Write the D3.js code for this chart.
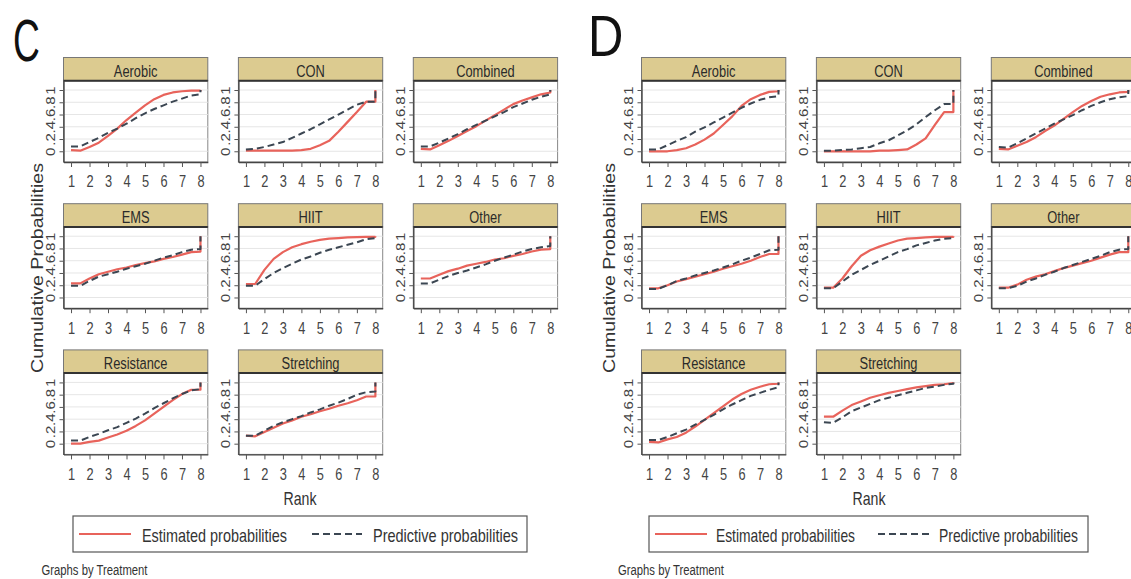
<!DOCTYPE html>
<html><head><meta charset="utf-8">
<script src="https://cdn.jsdelivr.net/npm/d3@7"></script>
<style>body{margin:0;background:#fff;} svg{display:block;}</style>
</head><body><svg id="chart" width="1131" height="579"></svg>
<script>
const treatments = ["Aerobic","CON","Combined","EMS","HIIT","Other","Resistance","Stretching"];
const rankGrid = [1,1.5,2,2.5,3,3.5,4,4.5,5,5.5,6,6.5,7,7.5,8];
const finalCumulative = 1;
const xTicks = [1,2,3,4,5,6,7,8];
const yTicks = [0,0.2,0.4,0.6,0.8,1];
const yTickLabels = ["0",".2",".4",".6",".8","1"];
const legendLabels = ["Estimated probabilities","Predictive probabilities"];
const xTitle = "Rank";
const yTitle = "Cumulative Probabilities";
const note = "Graphs by Treatment";

const estimatedC = [
  [0.02,0.01,0.07,0.14,0.25,0.37,0.51,0.63,0.75,0.85,0.92,0.96,0.98,0.99,0.99],
  [0.01,0.01,0.01,0.01,0.01,0.01,0.02,0.04,0.10,0.17,0.32,0.48,0.64,0.81,0.81],
  [0.04,0.03,0.10,0.17,0.25,0.33,0.41,0.50,0.59,0.68,0.77,0.83,0.88,0.93,0.96],
  [0.23,0.23,0.31,0.38,0.42,0.46,0.49,0.53,0.56,0.59,0.63,0.66,0.70,0.74,0.75],
  [0.22,0.22,0.45,0.63,0.74,0.82,0.87,0.91,0.94,0.96,0.97,0.98,0.985,0.99,0.99],
  [0.31,0.31,0.37,0.43,0.47,0.52,0.55,0.58,0.62,0.64,0.68,0.71,0.75,0.78,0.79],
  [0.00,0.00,0.03,0.05,0.10,0.15,0.21,0.29,0.38,0.49,0.60,0.71,0.81,0.88,0.88],
  [0.13,0.12,0.19,0.26,0.33,0.38,0.44,0.48,0.53,0.57,0.62,0.66,0.71,0.77,0.77]
];
const predictiveC = [
  [0.08,0.08,0.15,0.22,0.30,0.37,0.45,0.54,0.62,0.69,0.75,0.81,0.86,0.91,0.93],
  [0.03,0.04,0.07,0.11,0.15,0.22,0.29,0.36,0.44,0.52,0.60,0.68,0.76,0.81,0.81],
  [0.08,0.08,0.14,0.21,0.28,0.36,0.43,0.50,0.57,0.64,0.72,0.78,0.84,0.89,0.93],
  [0.19,0.19,0.27,0.34,0.38,0.42,0.47,0.51,0.55,0.60,0.65,0.69,0.74,0.78,0.79],
  [0.19,0.19,0.30,0.40,0.48,0.55,0.62,0.67,0.73,0.78,0.82,0.86,0.90,0.95,0.97],
  [0.23,0.23,0.29,0.35,0.40,0.44,0.49,0.54,0.60,0.65,0.70,0.75,0.79,0.82,0.84],
  [0.05,0.05,0.11,0.16,0.22,0.27,0.34,0.41,0.49,0.58,0.66,0.74,0.81,0.87,0.89],
  [0.13,0.13,0.21,0.29,0.35,0.40,0.45,0.51,0.56,0.62,0.67,0.73,0.80,0.84,0.85]
];
const estimatedD = [
  [0.00,0.00,0.00,0.02,0.05,0.11,0.19,0.29,0.43,0.57,0.74,0.85,0.92,0.97,0.98],
  [0.00,0.00,0.00,0.00,0.00,0.00,0.01,0.01,0.02,0.03,0.11,0.21,0.43,0.64,0.64],
  [0.04,0.03,0.09,0.15,0.23,0.33,0.42,0.53,0.64,0.74,0.82,0.89,0.93,0.96,0.97],
  [0.15,0.15,0.20,0.26,0.30,0.34,0.38,0.42,0.47,0.51,0.55,0.60,0.66,0.71,0.71],
  [0.16,0.16,0.31,0.51,0.68,0.77,0.83,0.88,0.93,0.96,0.97,0.98,0.99,0.99,0.99],
  [0.16,0.16,0.21,0.29,0.34,0.38,0.43,0.48,0.52,0.56,0.60,0.65,0.70,0.74,0.74],
  [0.03,0.02,0.07,0.11,0.18,0.28,0.39,0.50,0.61,0.72,0.81,0.88,0.93,0.97,0.98],
  [0.44,0.44,0.54,0.63,0.69,0.75,0.79,0.83,0.86,0.89,0.92,0.94,0.96,0.97,0.99]
];
const predictiveD = [
  [0.03,0.03,0.10,0.17,0.23,0.32,0.39,0.47,0.55,0.63,0.71,0.78,0.84,0.88,0.90],
  [0.01,0.01,0.02,0.03,0.05,0.07,0.13,0.18,0.26,0.34,0.44,0.56,0.67,0.77,0.77],
  [0.07,0.06,0.13,0.21,0.29,0.37,0.45,0.52,0.59,0.67,0.74,0.80,0.85,0.88,0.90],
  [0.14,0.14,0.20,0.27,0.31,0.36,0.40,0.44,0.49,0.54,0.60,0.65,0.71,0.77,0.78],
  [0.15,0.15,0.26,0.37,0.45,0.53,0.60,0.67,0.74,0.79,0.85,0.89,0.93,0.96,0.97],
  [0.15,0.15,0.19,0.26,0.31,0.37,0.42,0.48,0.53,0.58,0.63,0.68,0.74,0.78,0.79],
  [0.06,0.06,0.11,0.17,0.23,0.31,0.39,0.47,0.56,0.64,0.71,0.78,0.83,0.88,0.92],
  [0.35,0.34,0.43,0.53,0.59,0.65,0.71,0.75,0.79,0.83,0.87,0.91,0.93,0.96,0.98]
];

const FONT = '"Liberation Sans", Arial, sans-serif';
const RED = "#e8635b", DARK = "#3b4652", TAN = "#dccb90";
const COL0 = 63.5, COLSTEP = 174.9, PW = 144.3, ROW0 = 57.5, ROWSTEP = 146.2, HH = 23.2, PH = 81.3;

const figures = [
  {letter:"C", ox:0, est:estimatedC, pred:predictiveC, letterX:13, letterY:60.5, letterSize:60, letterSx:0.62,
   titleX:43, rankX:300, legX:73, legW:454,
   items:[{lx1:79,lx2:131,tx:142,tw:145},{lx1:312,lx2:362,tx:373,tw:145}], noteX:41.5},
  {letter:"D", ox:578, est:estimatedD, pred:predictiveD, letterX:588, letterY:56, letterSize:57, letterSx:0.86,
   titleX:615, rankX:869, legX:649, legW:439,
   items:[{lx1:655,lx2:707,tx:716,tw:139},{lx1:878,lx2:932,tx:939,tw:139}], noteX:618}
];

const svg = d3.select("#chart").attr("font-family", FONT);

figures.forEach(f => {
  const g = svg.append("g");
  // big panel letter
  g.append("text").attr("transform", `translate(${f.letterX},${f.letterY}) scale(${f.letterSx},1)`)
    .attr("font-size", f.letterSize).attr("fill", "#111").text(f.letter);

  treatments.forEach((t, i) => {
    const col = i % 3, row = Math.floor(i / 3);
    const left = f.ox + COL0 + col * COLSTEP, top = ROW0 + row * ROWSTEP;
    const pTop = top + HH, pBot = pTop + PH;
    const x = d3.scaleLinear().domain([0.593, 8.396]).range([left, left + PW]);
    const y = d3.scaleLinear().domain([-0.175, 1.152]).range([pBot, pTop]);

    g.append("rect").attr("x", left).attr("y", pTop).attr("width", PW).attr("height", PH)
      .attr("fill", "#fff").attr("stroke", "#888").attr("stroke-width", 1);
    g.append("g").selectAll("line").data(yTicks).join("line")
      .attr("x1", left).attr("x2", left + PW).attr("y1", d => y(d)).attr("y2", d => y(d))
      .attr("stroke", "#e6e6e6").attr("stroke-width", 1);

    const ya = g.append("g").attr("transform", `translate(${left},0)`)
      .call(d3.axisLeft(y).tickValues(yTicks).tickSize(4).tickSizeOuter(0).tickFormat((d, k) => yTickLabels[k]));
    ya.attr("font-family", FONT).attr("font-size", 15);
    ya.select(".domain").attr("stroke", "#444").attr("stroke-width", 1.4);
    ya.selectAll(".tick line").attr("stroke", "#555");
    ya.selectAll(".tick text").attr("x", null).attr("dy", null).attr("text-anchor", "middle")
      .attr("transform", "translate(-8.5,0) scale(0.8,1) rotate(-90)").attr("fill", "#444");

    const xa = g.append("g").attr("transform", `translate(0,${pBot})`)
      .call(d3.axisBottom(x).tickValues(xTicks).tickSize(5).tickSizeOuter(0));
    xa.attr("font-family", FONT).attr("font-size", 16);
    xa.select(".domain").attr("stroke", "#444").attr("stroke-width", 1.4);
    xa.selectAll(".tick line").attr("stroke", "#555");
    xa.selectAll(".tick text").attr("y", null).attr("dy", null)
      .attr("transform", "translate(0,25.3) scale(0.8,1)").attr("fill", "#444");

    const line = d3.line().x(d => x(d[0])).y(d => y(d[1]));
    const pts = arr => rankGrid.map((r, k) => [r, arr[k]]).concat([[rankGrid[rankGrid.length - 1], finalCumulative]]);
    g.append("path").attr("d", line(pts(f.est[i]))).attr("fill", "none")
      .attr("stroke", RED).attr("stroke-width", 2.2).attr("stroke-linejoin", "round");
    g.append("path").attr("d", line(pts(f.pred[i]))).attr("fill", "none")
      .attr("stroke", DARK).attr("stroke-width", 2).attr("stroke-dasharray", "7,4").attr("stroke-linejoin", "round");

    // header strip
    g.append("rect").attr("x", left).attr("y", top).attr("width", PW).attr("height", HH)
      .attr("fill", TAN).attr("stroke", "#777").attr("stroke-width", 1);
    g.append("line").attr("x1", left).attr("x2", left + PW).attr("y1", pTop).attr("y2", pTop)
      .attr("stroke", "#333").attr("stroke-width", 2);
    g.append("text").attr("transform", `translate(${left + PW / 2},${top + 19.5}) scale(0.78,1)`)
      .attr("text-anchor", "middle").attr("font-size", 16.5).attr("fill", "#2a2a2a").text(t);
  });

  // axis titles
  g.append("text").attr("transform", `translate(${f.titleX},268) scale(0.8,1) rotate(-90)`)
    .attr("text-anchor", "middle").attr("font-size", 20).attr("fill", "#333")
    .attr("textLength", 210).attr("lengthAdjust", "spacingAndGlyphs").text(yTitle);
  g.append("text").attr("x", f.rankX).attr("y", 505).attr("text-anchor", "middle")
    .attr("font-size", 19).attr("fill", "#333").attr("textLength", 33).attr("lengthAdjust", "spacingAndGlyphs").text(xTitle);

  // legend
  g.append("rect").attr("x", f.legX).attr("y", 516).attr("width", f.legW).attr("height", 36)
    .attr("fill", "#fff").attr("stroke", "#555").attr("stroke-width", 1.2);
  f.items.forEach((it, k) => {
    g.append("line").attr("x1", it.lx1).attr("x2", it.lx2).attr("y1", 534).attr("y2", 534)
      .attr("stroke", k === 0 ? RED : DARK).attr("stroke-width", 2)
      .attr("stroke-dasharray", k === 0 ? null : "7,4");
    g.append("text").attr("x", it.tx).attr("y", 542).attr("font-size", 19).attr("fill", "#333")
      .attr("textLength", it.tw).attr("lengthAdjust", "spacingAndGlyphs").text(legendLabels[k]);
  });
  g.append("text").attr("x", f.noteX).attr("y", 575).attr("font-size", 14).attr("fill", "#333")
    .attr("textLength", 106).attr("lengthAdjust", "spacingAndGlyphs").text(note);
});
</script></body></html>
